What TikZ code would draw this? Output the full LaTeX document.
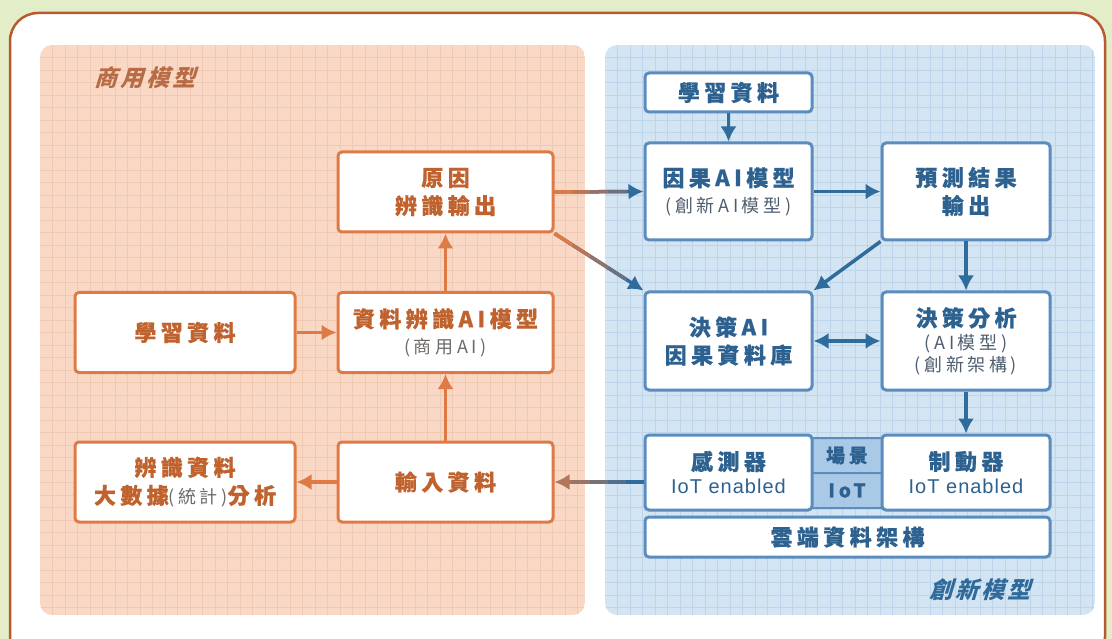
\documentclass[tikz,border=0pt]{standalone}
\usepackage{fontspec}
\setmainfont{Noto Sans CJK TC}[LetterSpace=20,BoldFeatures={FakeBold=0.6}]
\newfontfamily\titlefont{Noto Sans CJK TC}[FakeSlant=0.3,LetterSpace=12]
\newfontfamily\latinf{Liberation Sans}[LetterSpace=5]
\usetikzlibrary{arrows.meta,calc}
\definecolor{bggreen}{HTML}{E3EEC8}
\definecolor{frame}{HTML}{B65A2F}
\definecolor{opanel}{HTML}{F9D8C5}
\definecolor{ogrid}{HTML}{F0C9B2}
\definecolor{bpanel}{HTML}{D3E4F3}
\definecolor{bgrid}{HTML}{BED4EA}
\definecolor{oline}{HTML}{E07A45}
\definecolor{otext}{HTML}{C0622E}
\definecolor{otitle}{HTML}{B86C45}
\definecolor{bline}{HTML}{5A8CBD}
\definecolor{btext}{HTML}{2D618F}
\definecolor{btitle}{HTML}{2F6A9A}
\definecolor{barrow}{HTML}{2F6C9C}
\definecolor{subgray}{HTML}{6E6A68}
\definecolor{subblue}{HTML}{4E5E70}
\definecolor{iotfill}{HTML}{A9C9E6}
\newcommand{\mainf}{\bfseries\fontsize{22}{28}\selectfont}
\newcommand{\subo}{\mdseries\fontsize{18}{22}\selectfont\color{subgray}}
\newcommand{\subb}{\mdseries\fontsize{18}{22}\selectfont\color{subblue}}
\newcommand{\iotf}{\latinf\mdseries\fontsize{20}{22}\selectfont}
\tikzset{
  obox/.style={draw=oline, line width=3pt, fill=white, rounded corners=4pt, text=otext,
    font=\mainf, align=center, inner sep=0pt},
  bbox/.style={draw=bline, line width=3pt, fill=white, rounded corners=4pt, text=btext,
    font=\mainf, align=center, inner sep=0pt},
  oarr/.style={draw=oline, line width=3.5pt, -{Latex[length=15pt,width=16pt]}},
  barr/.style={draw=barrow, line width=3.5pt, -{Latex[length=15pt,width=16pt]}},
  dbarr/.style={draw=barrow, line width=3.5pt, {Latex[length=15pt,width=16pt]}-{Latex[length=15pt,width=16pt]}},
}
\begin{document}
\begin{tikzpicture}[x=1pt,y=-1pt]
\useasboundingbox (0,0) rectangle (1112,639);
\fill[bggreen] (0,0) rectangle (1112,639);
\begin{scope}
\clip (0,0) rectangle (1112,639);
\draw[frame, line width=2.5pt, fill=white, rounded corners=28pt] (10,13) rectangle (1105,665);
\end{scope}
% left panel
\begin{scope}
\clip[rounded corners=12pt] (40,45) rectangle (585,615);
\fill[opanel] (40,45) rectangle (585,615);
\foreach \i in {1,...,43} \draw[ogrid, line width=0.7pt] (40+\i*12.5,45) -- (40+\i*12.5,615);
\foreach \i in {1,...,45} \draw[ogrid, line width=0.7pt] (40,45+\i*12.5) -- (585,45+\i*12.5);
\end{scope}
% right panel
\begin{scope}
\clip[rounded corners=12pt] (605,45) rectangle (1095,615);
\fill[bpanel] (605,45) rectangle (1095,615);
\foreach \i in {1,...,39} \draw[bgrid, line width=0.7pt] (605+\i*12.5,45) -- (605+\i*12.5,615);
\foreach \i in {1,...,45} \draw[bgrid, line width=0.7pt] (605,45+\i*12.5) -- (1095,45+\i*12.5);
\end{scope}
% titles
\node[font=\titlefont\bfseries\fontsize{23}{26}\selectfont, text=otitle] (tl) at (145,78) {商用模型};
\node[font=\titlefont\bfseries\fontsize{23}{26}\selectfont, text=btitle] (tr) at (980,590) {創新模型};
% left nodes
\node[obox, minimum width=215pt, minimum height=80pt] (cause) at (445.5,192) {原因\\辨識輸出};
\node[obox, minimum width=215pt, minimum height=80pt] (recog) at (445.5,332.5) {資料辨識AI模型\\[-2pt]{\subo (商用AI)}};
\node[obox, minimum width=220pt, minimum height=80pt] (learnL) at (185,332.5) {學習資料};
\node[obox, minimum width=215pt, minimum height=80pt] (input) at (445.5,482) {輸入資料};
\node[obox, minimum width=220pt, minimum height=80pt] (stat) at (185,482) {辨識資料\\大數據{\subo(統計)}分析};
% right nodes
\node[bbox, minimum width=167pt, minimum height=39pt] (learnR) at (728.5,92.5) {學習資料};
\node[bbox, minimum width=167pt, minimum height=97pt] (causal) at (728.5,191.5) {因果AI模型\\[-2pt]{\subb(創新AI模型)}};
\node[bbox, minimum width=168pt, minimum height=97pt] (predict) at (966,191.5) {預測結果\\輸出};
\node[bbox, minimum width=167pt, minimum height=98pt] (decAI) at (728.5,341) {決策AI\\因果資料庫};
\node[bbox, minimum width=168pt, minimum height=98pt] (decAn) at (966,341) {決策分析\\[-5pt]{\subb(AI模型)}\\[-6pt]{\subb(創新架構)}};
\node[bbox, fill=iotfill, line width=2pt, rounded corners=2pt, minimum width=72pt, minimum height=35pt, font=\bfseries\fontsize{19}{22}\selectfont] (scene) at (847,455.5) {場景};
\node[bbox, fill=iotfill, line width=2pt, rounded corners=2pt, minimum width=72pt, minimum height=35pt, font=\bfseries\fontsize{19}{22}\selectfont] (iot) at (847,490.5) {IoT};
\node[bbox, minimum width=167pt, minimum height=75pt] (sensor) at (728.5,472.5) {感測器\\[-4pt]{\iotf IoT enabled}};
\node[bbox, minimum width=168pt, minimum height=75pt] (actuator) at (966,472.5) {制動器\\[-4pt]{\iotf IoT enabled}};
\node[bbox, minimum width=405pt, minimum height=40pt] (cloud) at (847.5,537) {雲端資料架構};
% left arrows
\draw[oarr] (learnL.east) -- (recog.west);
\draw[oarr] (recog.north) -- (cause.south);
\draw[oarr] (input.north) -- (recog.south);
\draw[oarr] (input.west) -- (stat.east);
% gradient arrows
\draw[barr] (cause.east) -- (causal.west);
\foreach \i [evaluate=\i as \p using int(\i*22)] in {0,...,3}
  \draw[line width=3.5pt, color=barrow!\p!oline] ($(cause.east)!\i/5!(causal.west)$) -- ($(cause.east)!\i/5+0.21!(causal.west)$);
\draw[barr] (cause.south east) -- (decAI.north west);
\foreach \i [evaluate=\i as \p using int(\i*22)] in {0,...,3}
  \draw[line width=3.5pt, color=barrow!\p!oline] ($(cause.south east)!\i/5!(decAI.north west)$) -- ($(cause.south east)!\i/5+0.21!(decAI.north west)$);
\coordinate (sw) at (sensor.west |- input.east);
\draw[draw=oline!75!barrow, line width=3.5pt, -{Latex[length=15pt,width=16pt]}] (sw) -- (input.east);
\foreach \i [evaluate=\i as \p using int(100-\i*20)] in {0,...,3}
  \draw[line width=3.5pt, color=barrow!\p!oline] ($(sw)!\i/5!(input.east)$) -- ($(sw)!\i/5+0.21!(input.east)$);
% right arrows
\draw[barr] (learnR.south) -- (causal.north);
\draw[barr] (causal.east) -- (predict.west);
\draw[barr] (predict.south west) -- (decAI.north east);
\draw[barr] (predict.south) -- (decAn.north);
\draw[dbarr] (decAI.east) -- (decAn.west);
\draw[barr] (decAn.south) -- (actuator.north);
\end{tikzpicture}
\end{document}
